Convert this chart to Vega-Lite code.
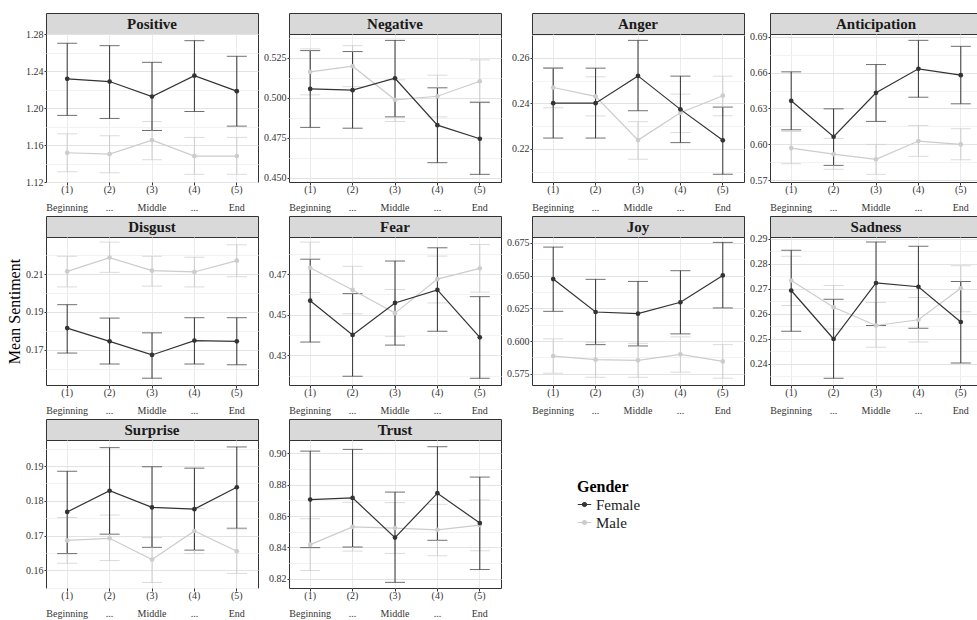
{
 "$schema": "https://vega.github.io/schema/vega-lite/v6.json",
 "padding": {"left": 6, "top": 12, "right": 0, "bottom": 0},
 "background": "white",
 "datasets": {"d": [
  {"e":"Positive","g":"Male","s":"(1)","m":1.1516,"lo":1.1311,"hi":1.1721},
  {"e":"Positive","g":"Male","s":"(2)","m":1.1502,"lo":1.130,"hi":1.170},
  {"e":"Positive","g":"Male","s":"(3)","m":1.1653,"lo":1.1441,"hi":1.1854},
  {"e":"Positive","g":"Male","s":"(4)","m":1.148,"lo":1.1283,"hi":1.1682},
  {"e":"Positive","g":"Male","s":"(5)","m":1.148,"lo":1.1283,"hi":1.1682},
  {"e":"Positive","g":"Female","s":"(1)","m":1.2315,"lo":1.192,"hi":1.270},
  {"e":"Positive","g":"Female","s":"(2)","m":1.2286,"lo":1.1887,"hi":1.2674},
  {"e":"Positive","g":"Female","s":"(3)","m":1.2124,"lo":1.1757,"hi":1.2494},
  {"e":"Positive","g":"Female","s":"(4)","m":1.2350,"lo":1.1962,"hi":1.2728},
  {"e":"Positive","g":"Female","s":"(5)","m":1.2182,"lo":1.1804,"hi":1.2559},
  {"e":"Negative","g":"Male","s":"(1)","m":0.5163,"lo":0.5019,"hi":0.5307},
  {"e":"Negative","g":"Male","s":"(2)","m":0.5198,"lo":0.507,"hi":0.5327},
  {"e":"Negative","g":"Male","s":"(3)","m":0.4988,"lo":0.4852,"hi":0.5113},
  {"e":"Negative","g":"Male","s":"(4)","m":0.5010,"lo":0.4881,"hi":0.5142},
  {"e":"Negative","g":"Male","s":"(5)","m":0.5104,"lo":0.497,"hi":0.5238},
  {"e":"Negative","g":"Female","s":"(1)","m":0.5056,"lo":0.4815,"hi":0.5296},
  {"e":"Negative","g":"Female","s":"(2)","m":0.5048,"lo":0.481,"hi":0.529},
  {"e":"Negative","g":"Female","s":"(3)","m":0.5123,"lo":0.4881,"hi":0.536},
  {"e":"Negative","g":"Female","s":"(4)","m":0.4829,"lo":0.4594,"hi":0.5063},
  {"e":"Negative","g":"Female","s":"(5)","m":0.4744,"lo":0.4521,"hi":0.4973},
  {"e":"Anger","g":"Male","s":"(1)","m":0.247,"lo":0.2381,"hi":0.2558},
  {"e":"Anger","g":"Male","s":"(2)","m":0.2431,"lo":0.2345,"hi":0.2517},
  {"e":"Anger","g":"Male","s":"(3)","m":0.2239,"lo":0.2155,"hi":0.232},
  {"e":"Anger","g":"Male","s":"(4)","m":0.2359,"lo":0.2272,"hi":0.2441},
  {"e":"Anger","g":"Male","s":"(5)","m":0.2434,"lo":0.2346,"hi":0.252},
  {"e":"Anger","g":"Female","s":"(1)","m":0.2401,"lo":0.2248,"hi":0.2555},
  {"e":"Anger","g":"Female","s":"(2)","m":0.2401,"lo":0.2248,"hi":0.2555},
  {"e":"Anger","g":"Female","s":"(3)","m":0.2521,"lo":0.2368,"hi":0.2677},
  {"e":"Anger","g":"Female","s":"(4)","m":0.2374,"lo":0.2228,"hi":0.252},
  {"e":"Anger","g":"Female","s":"(5)","m":0.2238,"lo":0.2089,"hi":0.2384},
  {"e":"Anticipation","g":"Male","s":"(1)","m":0.5969,"lo":0.5839,"hi":0.6108},
  {"e":"Anticipation","g":"Male","s":"(2)","m":0.5919,"lo":0.5792,"hi":0.605},
  {"e":"Anticipation","g":"Male","s":"(3)","m":0.5875,"lo":0.575,"hi":0.60},
  {"e":"Anticipation","g":"Male","s":"(4)","m":0.6028,"lo":0.59,"hi":0.6158},
  {"e":"Anticipation","g":"Male","s":"(5)","m":0.60,"lo":0.5872,"hi":0.6131},
  {"e":"Anticipation","g":"Female","s":"(1)","m":0.6364,"lo":0.6122,"hi":0.6606},
  {"e":"Anticipation","g":"Female","s":"(2)","m":0.6064,"lo":0.5825,"hi":0.6297},
  {"e":"Anticipation","g":"Female","s":"(3)","m":0.6431,"lo":0.6192,"hi":0.6667},
  {"e":"Anticipation","g":"Female","s":"(4)","m":0.6631,"lo":0.6394,"hi":0.6869},
  {"e":"Anticipation","g":"Female","s":"(5)","m":0.6578,"lo":0.6339,"hi":0.6819},
  {"e":"Disgust","g":"Male","s":"(1)","m":0.2114,"lo":0.2032,"hi":0.2194},
  {"e":"Disgust","g":"Male","s":"(2)","m":0.2187,"lo":0.2109,"hi":0.2269},
  {"e":"Disgust","g":"Male","s":"(3)","m":0.2118,"lo":0.2036,"hi":0.2194},
  {"e":"Disgust","g":"Male","s":"(4)","m":0.2111,"lo":0.2032,"hi":0.2189},
  {"e":"Disgust","g":"Male","s":"(5)","m":0.2171,"lo":0.2086,"hi":0.2255},
  {"e":"Disgust","g":"Female","s":"(1)","m":0.1814,"lo":0.1682,"hi":0.1938},
  {"e":"Disgust","g":"Female","s":"(2)","m":0.1744,"lo":0.1624,"hi":0.1867},
  {"e":"Disgust","g":"Female","s":"(3)","m":0.1672,"lo":0.1549,"hi":0.1789},
  {"e":"Disgust","g":"Female","s":"(4)","m":0.1748,"lo":0.1624,"hi":0.1869},
  {"e":"Disgust","g":"Female","s":"(5)","m":0.1744,"lo":0.162,"hi":0.1869},
  {"e":"Fear","g":"Male","s":"(1)","m":0.4731,"lo":0.4609,"hi":0.4857},
  {"e":"Fear","g":"Male","s":"(2)","m":0.4622,"lo":0.4505,"hi":0.4738},
  {"e":"Fear","g":"Male","s":"(3)","m":0.4508,"lo":0.4394,"hi":0.4624},
  {"e":"Fear","g":"Male","s":"(4)","m":0.4675,"lo":0.4558,"hi":0.4788},
  {"e":"Fear","g":"Male","s":"(5)","m":0.4728,"lo":0.4611,"hi":0.4845},
  {"e":"Fear","g":"Female","s":"(1)","m":0.4569,"lo":0.4366,"hi":0.4773},
  {"e":"Fear","g":"Female","s":"(2)","m":0.4401,"lo":0.4198,"hi":0.4604},
  {"e":"Fear","g":"Female","s":"(3)","m":0.4558,"lo":0.4351,"hi":0.4764},
  {"e":"Fear","g":"Female","s":"(4)","m":0.4622,"lo":0.4419,"hi":0.4829},
  {"e":"Fear","g":"Female","s":"(5)","m":0.4389,"lo":0.4188,"hi":0.4589},
  {"e":"Joy","g":"Male","s":"(1)","m":0.5886,"lo":0.5755,"hi":0.6017},
  {"e":"Joy","g":"Male","s":"(2)","m":0.5858,"lo":0.5724,"hi":0.5991},
  {"e":"Joy","g":"Male","s":"(3)","m":0.5853,"lo":0.5724,"hi":0.5983},
  {"e":"Joy","g":"Male","s":"(4)","m":0.5899,"lo":0.5763,"hi":0.6032},
  {"e":"Joy","g":"Male","s":"(5)","m":0.5845,"lo":0.5717,"hi":0.5973},
  {"e":"Joy","g":"Female","s":"(1)","m":0.6473,"lo":0.6227,"hi":0.6717},
  {"e":"Joy","g":"Female","s":"(2)","m":0.6222,"lo":0.5973,"hi":0.6471},
  {"e":"Joy","g":"Female","s":"(3)","m":0.6209,"lo":0.5963,"hi":0.6455},
  {"e":"Joy","g":"Female","s":"(4)","m":0.6296,"lo":0.6055,"hi":0.6537},
  {"e":"Joy","g":"Female","s":"(5)","m":0.6501,"lo":0.6253,"hi":0.6753},
  {"e":"Sadness","g":"Male","s":"(1)","m":0.2733,"lo":0.2633,"hi":0.283},
  {"e":"Sadness","g":"Male","s":"(2)","m":0.2626,"lo":0.2539,"hi":0.2713},
  {"e":"Sadness","g":"Male","s":"(3)","m":0.2553,"lo":0.2466,"hi":0.2645},
  {"e":"Sadness","g":"Male","s":"(4)","m":0.2576,"lo":0.2487,"hi":0.2665},
  {"e":"Sadness","g":"Male","s":"(5)","m":0.2702,"lo":0.2608,"hi":0.2792},
  {"e":"Sadness","g":"Female","s":"(1)","m":0.2693,"lo":0.2530,"hi":0.2854},
  {"e":"Sadness","g":"Female","s":"(2)","m":0.2499,"lo":0.2342,"hi":0.2658},
  {"e":"Sadness","g":"Female","s":"(3)","m":0.2723,"lo":0.2553,"hi":0.2887},
  {"e":"Sadness","g":"Female","s":"(4)","m":0.2708,"lo":0.2542,"hi":0.287},
  {"e":"Sadness","g":"Female","s":"(5)","m":0.2567,"lo":0.2403,"hi":0.2729},
  {"e":"Surprise","g":"Male","s":"(1)","m":0.1686,"lo":0.162,"hi":0.1752},
  {"e":"Surprise","g":"Male","s":"(2)","m":0.1692,"lo":0.1628,"hi":0.1759},
  {"e":"Surprise","g":"Male","s":"(3)","m":0.1631,"lo":0.1565,"hi":0.1694},
  {"e":"Surprise","g":"Male","s":"(4)","m":0.1713,"lo":0.1648,"hi":0.1778},
  {"e":"Surprise","g":"Male","s":"(5)","m":0.1655,"lo":0.1591,"hi":0.1719},
  {"e":"Surprise","g":"Female","s":"(1)","m":0.1768,"lo":0.1648,"hi":0.1885},
  {"e":"Surprise","g":"Female","s":"(2)","m":0.1829,"lo":0.1704,"hi":0.1953},
  {"e":"Surprise","g":"Female","s":"(3)","m":0.1781,"lo":0.1666,"hi":0.1898},
  {"e":"Surprise","g":"Female","s":"(4)","m":0.1776,"lo":0.1658,"hi":0.1894},
  {"e":"Surprise","g":"Female","s":"(5)","m":0.1839,"lo":0.1721,"hi":0.1955},
  {"e":"Trust","g":"Male","s":"(1)","m":0.8417,"lo":0.8252,"hi":0.8583},
  {"e":"Trust","g":"Male","s":"(2)","m":0.8531,"lo":0.8376,"hi":0.8688},
  {"e":"Trust","g":"Male","s":"(3)","m":0.8523,"lo":0.8361,"hi":0.8686},
  {"e":"Trust","g":"Male","s":"(4)","m":0.8512,"lo":0.8346,"hi":0.8675},
  {"e":"Trust","g":"Male","s":"(5)","m":0.8542,"lo":0.8378,"hi":0.8703},
  {"e":"Trust","g":"Female","s":"(1)","m":0.8705,"lo":0.8398,"hi":0.9015},
  {"e":"Trust","g":"Female","s":"(2)","m":0.8716,"lo":0.8402,"hi":0.9026},
  {"e":"Trust","g":"Female","s":"(3)","m":0.8462,"lo":0.8176,"hi":0.8753},
  {"e":"Trust","g":"Female","s":"(4)","m":0.8746,"lo":0.8445,"hi":0.9043},
  {"e":"Trust","g":"Female","s":"(5)","m":0.8555,"lo":0.8258,"hi":0.8849}
 ]},
 "columns": 4,
 "spacing": {"row": 2, "column": 4},
 "resolve": {"legend": {"color": "independent"}},
 "concat": [
  {"spacing": 0, "bounds": "flush", "vconcat": [
   {"width": 212, "height": 21, "view": {"fill": "#d9d9d9", "stroke": "#333333"}, "data": {"values": [{"t": "Positive"}]}, "mark": {"type": "text", "fontSize": 15, "fontWeight": "bold", "color": "#1a1a1a"}, "encoding": {"text": {"field": "t"}}},
   {"width": 212, "height": 148, "data": {"name": "d"}, "transform": [{"filter": "datum.e == 'Positive'"}],
    "encoding": {"x": {"field": "s", "type": "ordinal", "title": null}, "color": {"field": "g", "type": "nominal", "scale": {"domain": ["Female","Male"], "range": ["#333333","#cccccc"]}, "legend": null}},
    "layer": [
     {"mark": {"type": "errorbar", "ticks": {"size": 20}}, "encoding": {"y": {"field": "lo", "type": "quantitative", "scale": {"domain": [1.12, 1.28]}, "axis": {"title": null, "tickCount": 40, "labelOverlap": false, "values": [1.12,1.14,1.16,1.18,1.2,1.22,1.24,1.26,1.28], "format": ".2f", "labelExpr": "abs(datum.value/0.04-round(datum.value/0.04))<0.01 ? datum.label : ''", "tickOpacity": {"condition": {"test": "abs(datum.value/0.04-round(datum.value/0.04))<0.01", "value": 1}, "value": 0}, "gridColor": {"condition": {"test": "abs(datum.value/0.04-round(datum.value/0.04))<0.01", "value": "#e3e3e3"}, "value": "#f2f2f2"}}}, "y2": {"field": "hi"}}},
     {"mark": {"type": "line", "strokeWidth": 1.2, "point": {"filled": true, "size": 22}}, "encoding": {"y": {"field": "m", "type": "quantitative", "scale": {"domain": [1.12, 1.28]}, "title": null}}}
    ]}
  ]},
  {"spacing": 0, "bounds": "flush", "vconcat": [
   {"width": 212, "height": 21, "view": {"fill": "#d9d9d9", "stroke": "#333333"}, "data": {"values": [{"t": "Negative"}]}, "mark": {"type": "text", "fontSize": 15, "fontWeight": "bold", "color": "#1a1a1a"}, "encoding": {"text": {"field": "t"}}},
   {"width": 212, "height": 148, "data": {"name": "d"}, "transform": [{"filter": "datum.e == 'Negative'"}],
    "encoding": {"x": {"field": "s", "type": "ordinal", "title": null}, "color": {"field": "g", "type": "nominal", "scale": {"domain": ["Female","Male"], "range": ["#333333","#cccccc"]}, "legend": null}},
    "layer": [
     {"mark": {"type": "errorbar", "ticks": {"size": 20}}, "encoding": {"y": {"field": "lo", "type": "quantitative", "scale": {"domain": [0.4473, 0.540]}, "axis": {"title": null, "tickCount": 40, "labelOverlap": false, "values": [0.45,0.4625,0.475,0.4875,0.5,0.5125,0.525,0.5375], "format": ".3f", "labelExpr": "abs(datum.value/0.025-round(datum.value/0.025))<0.01 ? datum.label : ''", "tickOpacity": {"condition": {"test": "abs(datum.value/0.025-round(datum.value/0.025))<0.01", "value": 1}, "value": 0}, "gridColor": {"condition": {"test": "abs(datum.value/0.025-round(datum.value/0.025))<0.01", "value": "#e3e3e3"}, "value": "#f2f2f2"}}}, "y2": {"field": "hi"}}},
     {"mark": {"type": "line", "strokeWidth": 1.2, "point": {"filled": true, "size": 22}}, "encoding": {"y": {"field": "m", "type": "quantitative", "scale": {"domain": [0.4473, 0.540]}, "title": null}}}
    ]}
  ]},
  {"spacing": 0, "bounds": "flush", "vconcat": [
   {"width": 212, "height": 21, "view": {"fill": "#d9d9d9", "stroke": "#333333"}, "data": {"values": [{"t": "Anger"}]}, "mark": {"type": "text", "fontSize": 15, "fontWeight": "bold", "color": "#1a1a1a"}, "encoding": {"text": {"field": "t"}}},
   {"width": 212, "height": 148, "data": {"name": "d"}, "transform": [{"filter": "datum.e == 'Anger'"}],
    "encoding": {"x": {"field": "s", "type": "ordinal", "title": null}, "color": {"field": "g", "type": "nominal", "scale": {"domain": ["Female","Male"], "range": ["#333333","#cccccc"]}, "legend": null}},
    "layer": [
     {"mark": {"type": "errorbar", "ticks": {"size": 20}}, "encoding": {"y": {"field": "lo", "type": "quantitative", "scale": {"domain": [0.2055, 0.2705]}, "axis": {"title": null, "tickCount": 40, "labelOverlap": false, "values": [0.21,0.22,0.23,0.24,0.25,0.26,0.27], "format": ".2f", "labelExpr": "abs(datum.value/0.02-round(datum.value/0.02))<0.01 ? datum.label : ''", "tickOpacity": {"condition": {"test": "abs(datum.value/0.02-round(datum.value/0.02))<0.01", "value": 1}, "value": 0}, "gridColor": {"condition": {"test": "abs(datum.value/0.02-round(datum.value/0.02))<0.01", "value": "#e3e3e3"}, "value": "#f2f2f2"}}}, "y2": {"field": "hi"}}},
     {"mark": {"type": "line", "strokeWidth": 1.2, "point": {"filled": true, "size": 22}}, "encoding": {"y": {"field": "m", "type": "quantitative", "scale": {"domain": [0.2055, 0.2705]}, "title": null}}}
    ]}
  ]},
  {"spacing": 0, "bounds": "flush", "vconcat": [
   {"width": 212, "height": 21, "view": {"fill": "#d9d9d9", "stroke": "#333333"}, "data": {"values": [{"t": "Anticipation"}]}, "mark": {"type": "text", "fontSize": 15, "fontWeight": "bold", "color": "#1a1a1a"}, "encoding": {"text": {"field": "t"}}},
   {"width": 212, "height": 148, "data": {"name": "d"}, "transform": [{"filter": "datum.e == 'Anticipation'"}],
    "encoding": {"x": {"field": "s", "type": "ordinal", "title": null}, "color": {"field": "g", "type": "nominal", "scale": {"domain": ["Female","Male"], "range": ["#333333","#cccccc"]}, "legend": null}},
    "layer": [
     {"mark": {"type": "errorbar", "ticks": {"size": 20}}, "encoding": {"y": {"field": "lo", "type": "quantitative", "scale": {"domain": [0.5686, 0.6922]}, "axis": {"title": null, "tickCount": 40, "labelOverlap": false, "values": [0.57,0.585,0.6,0.615,0.63,0.645,0.66,0.675,0.69], "format": ".2f", "labelExpr": "abs(datum.value/0.03-round(datum.value/0.03))<0.01 ? datum.label : ''", "tickOpacity": {"condition": {"test": "abs(datum.value/0.03-round(datum.value/0.03))<0.01", "value": 1}, "value": 0}, "gridColor": {"condition": {"test": "abs(datum.value/0.03-round(datum.value/0.03))<0.01", "value": "#e3e3e3"}, "value": "#f2f2f2"}}}, "y2": {"field": "hi"}}},
     {"mark": {"type": "line", "strokeWidth": 1.2, "point": {"filled": true, "size": 22}}, "encoding": {"y": {"field": "m", "type": "quantitative", "scale": {"domain": [0.5686, 0.6922]}, "title": null}}}
    ]}
  ]},
  {"spacing": 0, "bounds": "flush", "vconcat": [
   {"width": 212, "height": 21, "view": {"fill": "#d9d9d9", "stroke": "#333333"}, "data": {"values": [{"t": "Disgust"}]}, "mark": {"type": "text", "fontSize": 15, "fontWeight": "bold", "color": "#1a1a1a"}, "encoding": {"text": {"field": "t"}}},
   {"width": 212, "height": 148, "data": {"name": "d"}, "transform": [{"filter": "datum.e == 'Disgust'"}],
    "encoding": {"x": {"field": "s", "type": "ordinal", "title": null}, "color": {"field": "g", "type": "nominal", "scale": {"domain": ["Female","Male"], "range": ["#333333","#cccccc"]}, "legend": null}},
    "layer": [
     {"mark": {"type": "errorbar", "ticks": {"size": 20}}, "encoding": {"y": {"field": "lo", "type": "quantitative", "scale": {"domain": [0.1513, 0.2296]}, "axis": {"title": "Mean Sentiment", "tickCount": 40, "labelOverlap": false, "values": [0.16,0.17,0.18,0.19,0.2,0.21,0.22], "format": ".2f", "labelExpr": "abs((datum.value-0.01)/0.02-round((datum.value-0.01)/0.02))<0.01 ? datum.label : ''", "tickOpacity": {"condition": {"test": "abs((datum.value-0.01)/0.02-round((datum.value-0.01)/0.02))<0.01", "value": 1}, "value": 0}, "gridColor": {"condition": {"test": "abs((datum.value-0.01)/0.02-round((datum.value-0.01)/0.02))<0.01", "value": "#e3e3e3"}, "value": "#f2f2f2"}}}, "y2": {"field": "hi"}}},
     {"mark": {"type": "line", "strokeWidth": 1.2, "point": {"filled": true, "size": 22}}, "encoding": {"y": {"field": "m", "type": "quantitative", "scale": {"domain": [0.1513, 0.2296]}, "title": "Mean Sentiment"}}}
    ]}
  ]},
  {"spacing": 0, "bounds": "flush", "vconcat": [
   {"width": 212, "height": 21, "view": {"fill": "#d9d9d9", "stroke": "#333333"}, "data": {"values": [{"t": "Fear"}]}, "mark": {"type": "text", "fontSize": 15, "fontWeight": "bold", "color": "#1a1a1a"}, "encoding": {"text": {"field": "t"}}},
   {"width": 212, "height": 148, "data": {"name": "d"}, "transform": [{"filter": "datum.e == 'Fear'"}],
    "encoding": {"x": {"field": "s", "type": "ordinal", "title": null}, "color": {"field": "g", "type": "nominal", "scale": {"domain": ["Female","Male"], "range": ["#333333","#cccccc"]}, "legend": null}},
    "layer": [
     {"mark": {"type": "errorbar", "ticks": {"size": 20}}, "encoding": {"y": {"field": "lo", "type": "quantitative", "scale": {"domain": [0.4155, 0.4882]}, "axis": {"title": null, "tickCount": 40, "labelOverlap": false, "values": [0.42,0.43,0.44,0.45,0.46,0.47,0.48], "format": ".2f", "labelExpr": "abs((datum.value-0.01)/0.02-round((datum.value-0.01)/0.02))<0.01 ? datum.label : ''", "tickOpacity": {"condition": {"test": "abs((datum.value-0.01)/0.02-round((datum.value-0.01)/0.02))<0.01", "value": 1}, "value": 0}, "gridColor": {"condition": {"test": "abs((datum.value-0.01)/0.02-round((datum.value-0.01)/0.02))<0.01", "value": "#e3e3e3"}, "value": "#f2f2f2"}}}, "y2": {"field": "hi"}}},
     {"mark": {"type": "line", "strokeWidth": 1.2, "point": {"filled": true, "size": 22}}, "encoding": {"y": {"field": "m", "type": "quantitative", "scale": {"domain": [0.4155, 0.4882]}, "title": null}}}
    ]}
  ]},
  {"spacing": 0, "bounds": "flush", "vconcat": [
   {"width": 212, "height": 21, "view": {"fill": "#d9d9d9", "stroke": "#333333"}, "data": {"values": [{"t": "Joy"}]}, "mark": {"type": "text", "fontSize": 15, "fontWeight": "bold", "color": "#1a1a1a"}, "encoding": {"text": {"field": "t"}}},
   {"width": 212, "height": 148, "data": {"name": "d"}, "transform": [{"filter": "datum.e == 'Joy'"}],
    "encoding": {"x": {"field": "s", "type": "ordinal", "title": null}, "color": {"field": "g", "type": "nominal", "scale": {"domain": ["Female","Male"], "range": ["#333333","#cccccc"]}, "legend": null}},
    "layer": [
     {"mark": {"type": "errorbar", "ticks": {"size": 20}}, "encoding": {"y": {"field": "lo", "type": "quantitative", "scale": {"domain": [0.5665, 0.6794]}, "axis": {"title": null, "tickCount": 40, "labelOverlap": false, "values": [0.575,0.5875,0.6,0.6125,0.625,0.6375,0.65,0.6625,0.675], "format": ".3f", "labelExpr": "abs(datum.value/0.025-round(datum.value/0.025))<0.01 ? datum.label : ''", "tickOpacity": {"condition": {"test": "abs(datum.value/0.025-round(datum.value/0.025))<0.01", "value": 1}, "value": 0}, "gridColor": {"condition": {"test": "abs(datum.value/0.025-round(datum.value/0.025))<0.01", "value": "#e3e3e3"}, "value": "#f2f2f2"}}}, "y2": {"field": "hi"}}},
     {"mark": {"type": "line", "strokeWidth": 1.2, "point": {"filled": true, "size": 22}}, "encoding": {"y": {"field": "m", "type": "quantitative", "scale": {"domain": [0.5665, 0.6794]}, "title": null}}}
    ]}
  ]},
  {"spacing": 0, "bounds": "flush", "vconcat": [
   {"width": 212, "height": 21, "view": {"fill": "#d9d9d9", "stroke": "#333333"}, "data": {"values": [{"t": "Sadness"}]}, "mark": {"type": "text", "fontSize": 15, "fontWeight": "bold", "color": "#1a1a1a"}, "encoding": {"text": {"field": "t"}}},
   {"width": 212, "height": 148, "data": {"name": "d"}, "transform": [{"filter": "datum.e == 'Sadness'"}],
    "encoding": {"x": {"field": "s", "type": "ordinal", "title": null}, "color": {"field": "g", "type": "nominal", "scale": {"domain": ["Female","Male"], "range": ["#333333","#cccccc"]}, "legend": null}},
    "layer": [
     {"mark": {"type": "errorbar", "ticks": {"size": 20}}, "encoding": {"y": {"field": "lo", "type": "quantitative", "scale": {"domain": [0.2315, 0.2907]}, "axis": {"title": null, "tickCount": 40, "labelOverlap": false, "values": [0.235,0.24,0.245,0.25,0.255,0.26,0.265,0.27,0.275,0.28,0.285,0.29], "format": ".2f", "labelExpr": "abs(datum.value/0.01-round(datum.value/0.01))<0.01 ? datum.label : ''", "tickOpacity": {"condition": {"test": "abs(datum.value/0.01-round(datum.value/0.01))<0.01", "value": 1}, "value": 0}, "gridColor": {"condition": {"test": "abs(datum.value/0.01-round(datum.value/0.01))<0.01", "value": "#e3e3e3"}, "value": "#f2f2f2"}}}, "y2": {"field": "hi"}}},
     {"mark": {"type": "line", "strokeWidth": 1.2, "point": {"filled": true, "size": 22}}, "encoding": {"y": {"field": "m", "type": "quantitative", "scale": {"domain": [0.2315, 0.2907]}, "title": null}}}
    ]}
  ]},
  {"spacing": 0, "bounds": "flush", "vconcat": [
   {"width": 212, "height": 21, "view": {"fill": "#d9d9d9", "stroke": "#333333"}, "data": {"values": [{"t": "Surprise"}]}, "mark": {"type": "text", "fontSize": 15, "fontWeight": "bold", "color": "#1a1a1a"}, "encoding": {"text": {"field": "t"}}},
   {"width": 212, "height": 148, "data": {"name": "d"}, "transform": [{"filter": "datum.e == 'Surprise'"}],
    "encoding": {"x": {"field": "s", "type": "ordinal", "title": null}, "color": {"field": "g", "type": "nominal", "scale": {"domain": ["Female","Male"], "range": ["#333333","#cccccc"]}, "legend": null}},
    "layer": [
     {"mark": {"type": "errorbar", "ticks": {"size": 20}}, "encoding": {"y": {"field": "lo", "type": "quantitative", "scale": {"domain": [0.1549, 0.1975]}, "axis": {"title": null, "tickCount": 40, "labelOverlap": false, "values": [0.155,0.16,0.165,0.17,0.175,0.18,0.185,0.19,0.195], "format": ".2f", "labelExpr": "abs(datum.value/0.01-round(datum.value/0.01))<0.01 ? datum.label : ''", "tickOpacity": {"condition": {"test": "abs(datum.value/0.01-round(datum.value/0.01))<0.01", "value": 1}, "value": 0}, "gridColor": {"condition": {"test": "abs(datum.value/0.01-round(datum.value/0.01))<0.01", "value": "#e3e3e3"}, "value": "#f2f2f2"}}}, "y2": {"field": "hi"}}},
     {"mark": {"type": "line", "strokeWidth": 1.2, "point": {"filled": true, "size": 22}}, "encoding": {"y": {"field": "m", "type": "quantitative", "scale": {"domain": [0.1549, 0.1975]}, "title": null}}}
    ]}
  ]},
  {"spacing": 0, "bounds": "flush", "vconcat": [
   {"width": 212, "height": 21, "view": {"fill": "#d9d9d9", "stroke": "#333333"}, "data": {"values": [{"t": "Trust"}]}, "mark": {"type": "text", "fontSize": 15, "fontWeight": "bold", "color": "#1a1a1a"}, "encoding": {"text": {"field": "t"}}},
   {"width": 212, "height": 148, "data": {"name": "d"}, "transform": [{"filter": "datum.e == 'Trust'"}],
    "encoding": {"x": {"field": "s", "type": "ordinal", "title": null}, "color": {"field": "g", "type": "nominal", "scale": {"domain": ["Female","Male"], "range": ["#333333","#cccccc"]}, "legend": null}},
    "layer": [
     {"mark": {"type": "errorbar", "ticks": {"size": 20}}, "encoding": {"y": {"field": "lo", "type": "quantitative", "scale": {"domain": [0.814, 0.9086]}, "axis": {"title": null, "tickCount": 40, "labelOverlap": false, "values": [0.82,0.83,0.84,0.85,0.86,0.87,0.88,0.89,0.90], "format": ".2f", "labelExpr": "abs(datum.value/0.02-round(datum.value/0.02))<0.01 ? datum.label : ''", "tickOpacity": {"condition": {"test": "abs(datum.value/0.02-round(datum.value/0.02))<0.01", "value": 1}, "value": 0}, "gridColor": {"condition": {"test": "abs(datum.value/0.02-round(datum.value/0.02))<0.01", "value": "#e3e3e3"}, "value": "#f2f2f2"}}}, "y2": {"field": "hi"}}},
     {"mark": {"type": "line", "strokeWidth": 1.2, "point": {"filled": true, "size": 22}}, "encoding": {"y": {"field": "m", "type": "quantitative", "scale": {"domain": [0.814, 0.9086]}, "title": null}}}
    ]}
  ]},
  {"width": 212, "height": 148, "view": {"stroke": null, "fill": null}, "data": {"name": "d"}, "transform": [{"filter": "datum.e == 'none'"}],
   "mark": {"type": "line", "strokeWidth": 1.2, "point": {"filled": true, "size": 22}},
   "encoding": {"x": {"field": "s", "type": "ordinal", "axis": null}, "y": {"field": "m", "type": "quantitative", "axis": null}, "color": {"field": "g", "type": "nominal", "title": "Gender", "scale": {"domain": ["Female","Male"], "range": ["#333333","#cccccc"]}, "legend": {"orient": "none", "legendX": 45, "legendY": 60, "symbolType": "M-1,0H1M-0.3,0A0.3,0.3,0,1,1,0.3,0A0.3,0.3,0,1,1,-0.3,0Z", "symbolSize": 180, "symbolStrokeWidth": 1.2}}}}
 ],
 "config": {
  "font": "Liberation Serif",
  "view": {"stroke": "#333333", "strokeWidth": 1},
  "scale": {"pointPadding": 0.58},
  "axis": {"labelFont": "Liberation Serif", "labelFontSize": 10, "labelColor": "#333333", "tickColor": "#333333", "tickSize": 2, "domain": false, "gridColor": "#ebebeb", "titleFont": "Liberation Serif", "titleFontWeight": "normal", "titleFontSize": 16, "titleColor": "#000000", "titlePadding": 3, "labelPadding": 1, "labelOverlap": false},
  "axisX": {"grid": true, "labelAngle": 0, "tickSize": 3, "labelLineHeight": 18, "labelPadding": -1, "labelExpr": "[datum.label, datum.label == '(1)' ? 'Beginning' : datum.label == '(3)' ? 'Middle' : datum.label == '(5)' ? 'End' : '...']"},
  "legend": {"titleFont": "Liberation Serif", "titleFontSize": 16, "titleFontWeight": "bold", "titleColor": "#000000", "labelFont": "Liberation Serif", "labelFontSize": 15, "labelColor": "#1a1a1a", "titlePadding": 2, "rowPadding": 2}
 }
}
